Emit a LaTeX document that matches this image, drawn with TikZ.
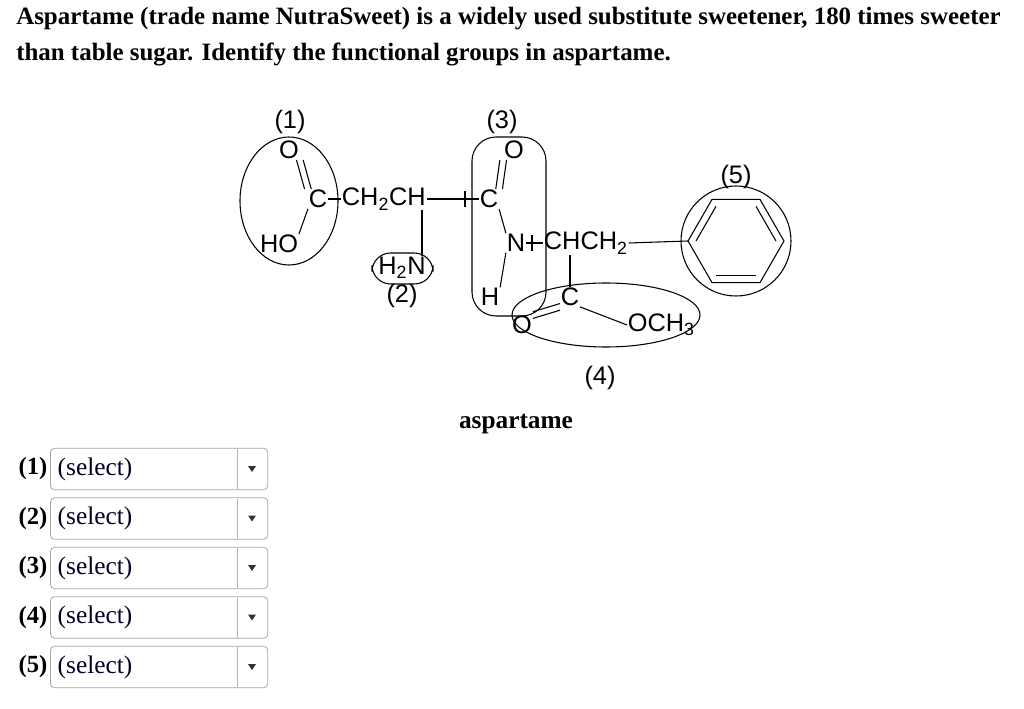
\documentclass[tikz,border=0pt]{standalone}
\usepackage{fontspec}
\usetikzlibrary{calc}
\setmainfont{Liberation Serif}
\newfontfamily\chem{Liberation Sans}
\newcommand{\chsub}[1]{\textsubscript{#1}}
\begin{document}
\begin{tikzpicture}[x=0.75pt,y=-0.75pt,
  ch/.style={font=\chem\fontsize{19}{20}\selectfont,inner sep=0.5pt},
  bd/.style={line width=0.8pt},
  grp/.style={line width=0.8pt},
  sel/.style={draw=gray!70,rounded corners=3pt,minimum width=163pt,minimum height=31pt,line width=0.6pt},
  lab/.style={font=\bfseries\fontsize{18.5}{20}\selectfont}]
\useasboundingbox (0,0) rectangle (1024,709);
\node[anchor=west,font=\bfseries\fontsize{18.7}{20}\selectfont,inner sep=0] (t1) at (16,19) {Aspartame (trade name NutraSweet) is a widely used substitute sweetener, 180 times sweeter};
\node[anchor=west,font=\bfseries\fontsize{18.7}{20}\selectfont,inner sep=0] (t2) at (16,54) {than table sugar. Identify the functional groups in aspartame.};
% atoms
\node[ch] (l1) at (290,122) {(1)};
\node[ch] (o1) at (289,150) {O};
\node[ch] (c1) at (318,199) {C};
\node[ch] (ho) at (279,244) {HO};
\node[ch,anchor=west] (chch) at (341,199) {CH\chsub{2}CH};
\node[ch] (c3) at (489,199) {C};
\node[ch] (o3) at (514,150) {O};
\node[ch] (l3) at (502,122) {(3)};
\node[ch] (h2n) at (402,268) {H\chsub{2}N};
\node[ch] (l2) at (402,296) {(2)};
\node[ch] (n) at (516,243) {N};
\node[ch,anchor=west] (chch2) at (543,243) {CHCH\chsub{2}};
\node[ch] (h) at (490,297) {H};
\node[ch] (c4) at (570,297) {C};
\node[ch] (o4) at (522,325) {O};
\node[ch,anchor=west] (och) at (627,325) {OCH\chsub{3}};
\node[ch] (l4) at (600,378) {(4)};
\node[ch] (l5) at (736,177) {(5)};
\coordinate (rc) at (736,241);
\coordinate (chx) at (422,210);
\coordinate (ch4) at (570,255);
% bonds
\draw[bd] (c1) -- (chch);
\draw[bd] (chch.east) -- (c3);
\draw[bd] (465,191) -- (465,207);
\draw[bd] (chx) -- (h2n.north -| chx);
\draw[bd] ([xshift=-2.5]o1.south east) -- ([xshift=-2.5]c1.north west);
\draw[bd] ([xshift=2.5]o1.south east) -- ([xshift=2.5]c1.north west);
\draw[bd] (c1.south west) -- (ho.north east);
\draw[bd] ([xshift=-2.5]o3.south west) -- ([xshift=-2.5]c3.north east);
\draw[bd] ([xshift=2.5]o3.south west) -- ([xshift=2.5]c3.north east);
\draw[bd] (c3.south east) -- (n.north west);
\draw[bd] (n.south west) -- (h.north east);
\draw[bd] (n) -- (chch2);
\draw[bd] (532,235) -- (532,251);
\draw[bd] (ch4) -- (c4);
\draw[bd] ([yshift=-2.5]c4.south west) -- ([yshift=-2.5]o4.north east);
\draw[bd] ([yshift=2.5]c4.south west) -- ([yshift=2.5]o4.north east);
\draw[bd] (c4.south east) -- (och.west);
% ring
\draw[bd] (chch2.east) -- ($(rc)+(180:48)$);
\draw[bd] (rc) ++(0:48) -- ++(120:48) -- ++(180:48) -- ++(240:48) -- ++(300:48) -- ++(0:48) -- cycle;
\draw[bd] ($(rc)+(60:40)$) -- ($(rc)+(120:40)$);
\draw[bd] ($(rc)+(180:40)$) -- ($(rc)+(240:40)$);
\draw[bd] ($(rc)+(300:40)$) -- ($(rc)+(0:40)$);
% groups
\draw[grp] (289,201) ellipse (49 and 64);
\draw[grp,rounded corners=18] (472,137) rectangle (546,316);
\draw[grp,rounded corners=14] (372,253) rectangle (433,284);
\draw[grp] (606,315) ellipse (94 and 32);
\draw[grp] (rc) circle (55);
\node[font=\bfseries\fontsize{19}{20}\selectfont] (asp) at (516,424) {aspartame};
% selects
\foreach \i in {1,...,5}{
  \pgfmathsetmacro{\yy}{469+49.5*(\i-1)}
  \node[lab,anchor=east,inner sep=1pt] (n\i) at (49,\yy) {(\i)};
  \node[sel,anchor=west] (s\i) at (50,\yy) {};
  \node[anchor=west,font=\fontsize{19}{20}\selectfont,text=black!85!blue] (st\i) at (53,\yy) {(select)};
  \draw[gray!60] (237,\yy-20) -- (237,\yy+20);
  \fill[black!80] (248,\yy-3) -- (256,\yy-3) -- (252,\yy+3) -- cycle;
}
\end{tikzpicture}
\end{document}
